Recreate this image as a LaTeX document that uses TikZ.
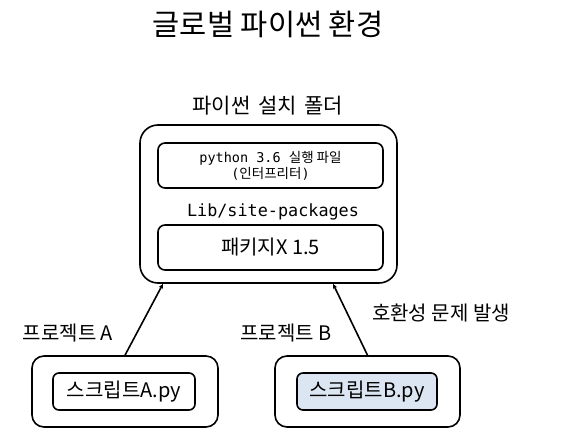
\documentclass[tikz,border=0pt]{standalone}
\usepackage{fontspec}
\setmainfont{Noto Sans CJK KR}
\newfontfamily\monofont{DejaVu Sans Mono}
\usetikzlibrary{arrows.meta,positioning}

\definecolor{scriptfill}{RGB}{220,230,242}

\tikzset{
  bigbox/.style={draw, line width=1.6pt, rounded corners=18pt, inner sep=0pt},
  smallbox/.style={draw, line width=1.6pt, rounded corners=7pt, inner sep=0pt, align=center},
  label/.style={inner sep=0pt, font=\fontsize{20}{24}\selectfont},
}

\begin{document}
\begin{tikzpicture}[x=1pt, y=-1pt, >={Stealth[length=5pt,width=4.5pt]}, line width=1.6pt]
    \useasboundingbox (0,0) rectangle (578,438);
    \node[inner sep=0pt, font=\fontsize{29.5}{32}\selectfont] (title) at (268,24) {글로벌 파이썬 환경};

    % python install folder
    \node[label, font=\fontsize{21}{24}\selectfont] (folderlabel) at (268,106) {파이썬\hspace{3pt} 설치\hspace{3pt} 폴더};
    \node[bigbox, minimum width=257pt, minimum height=158pt] (folder) at (268.5,204) {};
    \node[smallbox, minimum width=225pt, minimum height=45pt, font=\fontsize{13.5}{16}\selectfont] (exe) at (270.5,165.5)
      {{\monofont python 3.6 }실행 파일\\
       {\monofont(}인터프리터{\monofont)}};
    \node[inner sep=0pt, font=\fontsize{16.8}{18}\selectfont\monofont] (libdir) at (273,212) {Lib/site-packages};
    \node[smallbox, minimum width=225pt, minimum height=45pt, font=\fontsize{20}{24}\selectfont] (pkg) at (270.5,247.5) {패키지X 1.5};

    % projects
    \node[bigbox, rounded corners=12pt, minimum width=186pt, minimum height=71pt] (projA) at (125,391.5) {};
    \node[smallbox, rounded corners=6pt, minimum width=142pt, minimum height=37pt, font=\fontsize{20}{24}\selectfont] (scriptA) at (124,391.5) {스크립트A.py};
    \node[bigbox, rounded corners=12pt, minimum width=185pt, minimum height=71pt] (projB) at (367.5,391.5) {};
    \node[smallbox, rounded corners=6pt, fill=scriptfill, minimum width=140pt, minimum height=37pt, font=\fontsize{20}{24}\selectfont] (scriptB) at (367,391.5) {스크립트B.py};

    \draw[->] (projA.north) -- ([xshift=-105.5pt]folder.south);
    \draw[->] (projB.north) -- ([xshift=64.5pt]folder.south);

    \node[label] (labelA) at (68,333) {프로젝트 A};
    \node[label] (labelB) at (286,333) {프로젝트 B};
    \node[label] (conflict) at (441,313) {호환성 문제 발생};
\end{tikzpicture}
\end{document}
